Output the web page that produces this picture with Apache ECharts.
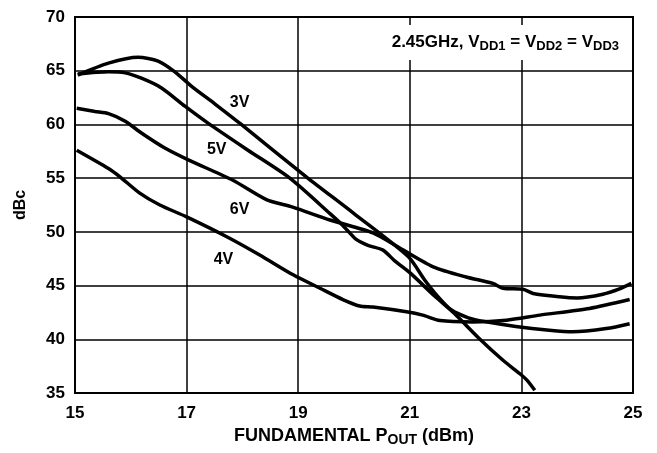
<!DOCTYPE html>
<html>
<head>
<meta charset="utf-8">
<script src="https://cdn.jsdelivr.net/npm/echarts@6/dist/echarts.min.js"></script>
<style>
  html, body { margin: 0; padding: 0; background: #fff; }
  #chart { width: 657px; height: 453px; }
</style>
</head>
<body>
<div id="chart"></div>
<script>
// values: fundamental Pout (dBm) vs harmonic level (dBc)
const pout3V = [15.05, 15.6, 16.13, 16.49, 16.79, 17.09, 17.51, 17.98, 19.15, 20.0, 20.97, 21.27, 21.5, 21.74, 22.05, 22.34, 22.9, 23.5, 23.92, 24.52, 24.94]
const dbc3V = [64.6, 65.7, 66.25, 65.9, 64.9, 63.55, 61.9, 60.0, 55.1, 51.7, 47.7, 45.5, 44.0, 42.75, 42.0, 41.65, 41.2, 40.85, 40.7, 41.0, 41.45]

const pout5V = [15.05, 15.6, 15.9, 16.19, 16.55, 16.97, 17.39, 18.1, 18.85, 19.57, 19.8, 20.04, 20.25, 20.52, 20.73, 21.0, 21.45, 21.8, 22.22, 22.67, 22.97, 23.1, 23.24]
const dbc5V = [64.7, 64.9, 64.8, 64.3, 63.4, 61.7, 60.1, 57.6, 55.0, 51.7, 50.6, 49.3, 48.75, 48.3, 47.3, 46.2, 44.0, 42.4, 40.2, 38.05, 36.8, 36.2, 35.25]

const pout6V = [15.03, 15.36, 15.6, 15.9, 16.19, 16.61, 17.03, 17.83, 18.43, 18.9, 19.57, 20.34, 20.82, 21.42, 22.01, 22.49, 22.67, 23.03, 23.21, 23.68, 24.0, 24.46, 24.76, 24.97]
const dbc6V = [61.5, 61.2, 61.0, 60.3, 59.2, 57.8, 56.7, 54.8, 53.0, 52.3, 51.1, 49.9, 48.5, 46.75, 45.8, 45.2, 44.75, 44.65, 44.27, 43.96, 43.85, 44.2, 44.7, 45.2]

const pout4V = [15.03, 15.6, 15.8, 16.16, 16.52, 17.0, 17.72, 18.31, 18.91, 19.39, 19.8, 20.1, 20.34, 20.94, 21.23, 21.54, 22.13, 22.73, 23.33, 24.22, 24.94]
const dbc4V = [57.6, 55.9, 55.15, 53.6, 52.5, 51.4, 49.55, 47.85, 46.0, 44.75, 43.7, 43.1, 43.0, 42.56, 42.25, 41.75, 41.62, 41.78, 42.25, 42.87, 43.7]

// curve tags and where they sit
const curveNames = ['3V', '5V', '6V', '4V']
const labelPout = [17.95, 17.54, 17.95, 17.66]
const labelDbc = [62.0, 57.7, 52.1, 47.4]

const fontFamily = '"Liberation Sans", Arial, sans-serif'

const zip = (xs, ys) => xs.map((x, i) => [x, ys[i]])

const curves = [
  zip(pout3V, dbc3V),
  zip(pout5V, dbc5V),
  zip(pout6V, dbc6V),
  zip(pout4V, dbc4V)
]

const chart = echarts.init(document.getElementById('chart'))

const lineSeries = curves.map((data, i) => {
  return {
    name: curveNames[i],
    type: 'line',
    data: data,
    smooth: 0.25,
    symbol: 'none',
    lineStyle: { color: '#000', width: 3.5 },
    silent: true,
    z: 3
  }
})

const option = {
  animation: false,
  grid: {
    left: 75,
    right: 24,
    top: 17,
    bottom: 60,
    show: true,
    borderColor: '#000',
    borderWidth: 2
  },
  xAxis: {
    type: 'value',
    min: 15,
    max: 25,
    interval: 2,
    name: 'FUNDAMENTAL P{sub|OUT} (dBm)',
    nameLocation: 'middle',
    nameGap: 31,
    nameTextStyle: {
      color: '#000',
      fontSize: 18,
      fontWeight: 'bold',
      fontFamily: fontFamily,
      rich: {
        sub: { fontSize: 14, fontWeight: 'bold', fontFamily: fontFamily, color: '#000', padding: [8, 0, 0, 0] }
      }
    },
    axisLine: { show: false },
    axisTick: { show: false },
    axisLabel: { color: '#000', fontSize: 17, fontWeight: 'bold', fontFamily: fontFamily, margin: 12 },
    splitLine: { show: true, lineStyle: { color: '#000', width: 1.5 } }
  },
  yAxis: {
    type: 'value',
    min: 35,
    max: 70,
    interval: 5,
    name: 'dBc',
    nameLocation: 'middle',
    nameGap: 46,
    nameTextStyle: { color: '#000', fontSize: 16, fontWeight: 'bold', fontFamily: fontFamily },
    axisLine: { show: false },
    axisTick: { show: false },
    axisLabel: { color: '#000', fontSize: 17, fontWeight: 'bold', fontFamily: fontFamily, margin: 10 },
    splitLine: { show: true, lineStyle: { color: '#000', width: 1.5 } }
  },
  graphic: [
    {
      type: 'rect',
      shape: { x: 384, y: 25, width: 244, height: 35 },
      style: { fill: '#fff' },
      z: 10
    },
    {
      type: 'text',
      x: 619,
      y: 42,
      z: 11,
      style: {
        text: '2.45GHz, V{s|DD1} = V{s|DD2} = V{s|DD3}',
        align: 'right',
        verticalAlign: 'middle',
        fill: '#000',
        fontSize: 17,
        fontWeight: 'bold',
        fontFamily: fontFamily,
        rich: {
          s: { fontSize: 13, fontWeight: 'bold', fontFamily: fontFamily, fill: '#000', padding: [8, 0, 0, 0] }
        }
      }
    }
  ],
  series: lineSeries.concat([
    {
      type: 'scatter',
      symbolSize: 0,
      silent: true,
      itemStyle: { opacity: 1 },
      data: curveNames.map((n, i) => [labelPout[i], labelDbc[i], n]),
      label: {
        show: true,
        position: 'inside',
        formatter: (p) => p.value[2],
        color: '#000',
        opacity: 1,
        textBorderWidth: 0,
        fontSize: 16,
        fontWeight: 'bold',
        fontFamily: fontFamily
      },
      z: 4
    }
  ])
}

chart.setOption(option)
</script>
</body>
</html>
